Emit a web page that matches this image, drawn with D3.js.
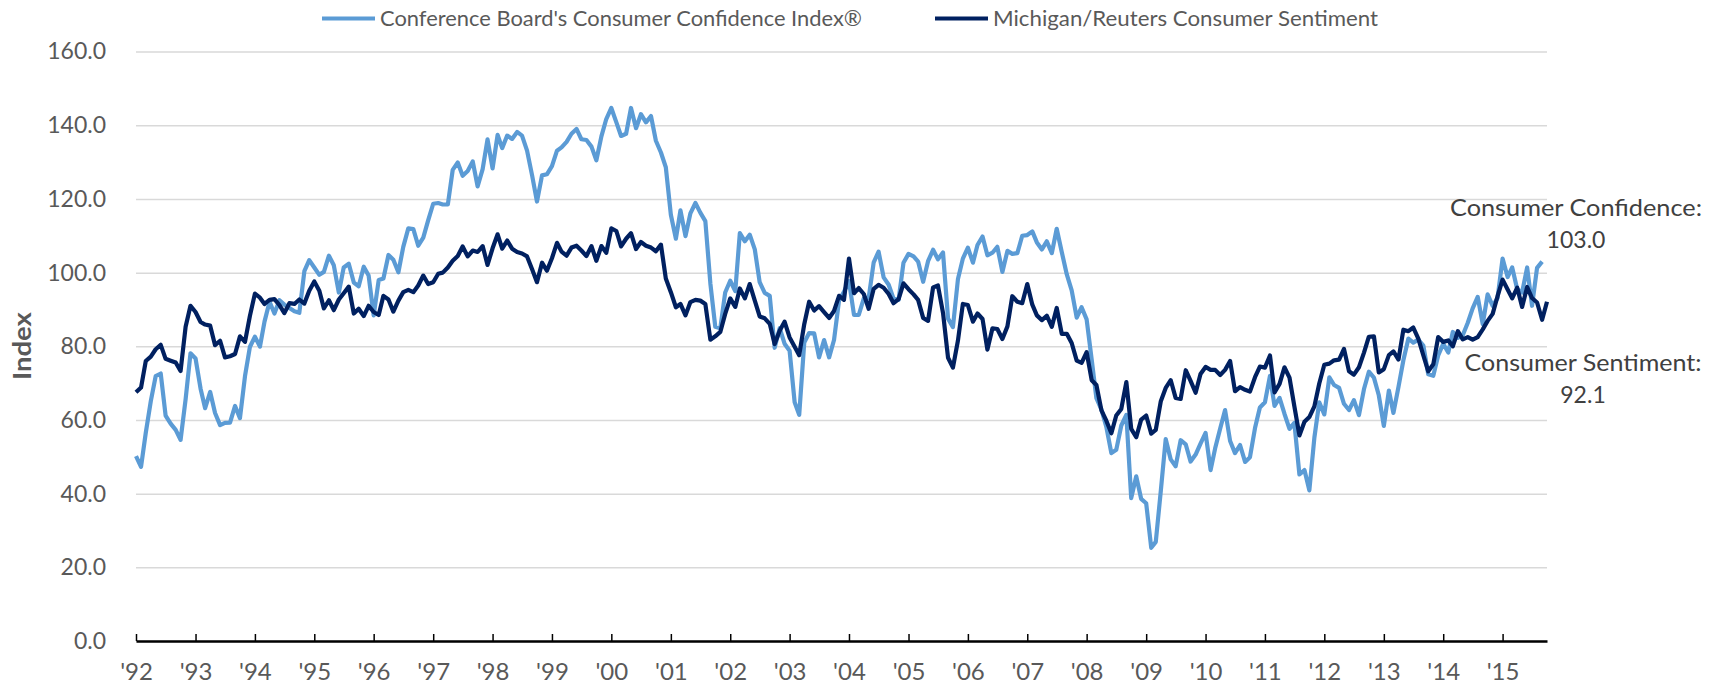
<!DOCTYPE html>
<html>
<head>
<meta charset="utf-8">
<script src="https://cdn.jsdelivr.net/npm/d3@7/dist/d3.min.js"></script>
<style>
body { margin: 0; background: #fff; }
text { font-family: Lato, "Open Sans", sans-serif; }
</style>
</head>
<body>
<div id="chart"></div>
<script>
// monthly values, Jan 1992 onwards
var startYear = 1992;

var confidence = [
  50.2, 47.3, 56.5, 65.1, 71.9, 72.6, 61.2, 59.0, 57.3, 54.6, 65.6, 78.1,
  76.7, 68.5, 63.2, 67.6, 61.9, 58.6, 59.2, 59.3, 63.8, 60.5, 71.9, 79.8,
  82.6, 79.9, 86.7, 92.1, 88.9, 92.5, 91.3, 90.4, 89.5, 89.1, 100.4, 103.4,
  101.4, 99.4, 100.2, 104.6, 102.0, 94.6, 101.4, 102.4, 97.3, 96.3, 101.6, 99.2,
  88.4, 98.0, 98.4, 104.8, 103.5, 100.1, 107.0, 112.0, 111.8, 107.3, 109.5, 114.2,
  118.7, 118.9, 118.5, 118.5, 127.9, 129.9, 126.3, 127.6, 130.2, 123.4, 128.1, 136.2,
  128.3, 137.4, 133.8, 137.2, 136.3, 138.2, 137.2, 133.1, 126.4, 119.3, 126.4, 126.7,
  128.9, 133.1, 134.0, 135.5, 137.7, 139.0, 136.2, 136.0, 134.2, 130.5, 137.0, 141.7,
  144.7, 140.8, 137.1, 137.7, 144.7, 139.2, 143.0, 140.8, 142.5, 135.8, 132.6, 128.6,
  115.7, 109.2, 116.9, 109.9, 116.1, 118.9, 116.3, 114.0, 97.0, 85.3, 84.9, 94.6,
  97.8, 95.0, 110.7, 108.5, 110.3, 106.3, 97.4, 94.5, 93.7, 79.6, 84.9, 80.7,
  78.8, 64.8, 61.4, 81.0, 83.6, 83.5, 77.0, 81.7, 77.0, 81.7, 92.5, 94.8,
  97.7, 88.5, 88.5, 93.0, 93.1, 102.8, 105.7, 98.7, 96.7, 92.9, 92.6, 102.7,
  105.1, 104.4, 103.0, 97.5, 103.1, 106.2, 103.6, 105.5, 87.5, 85.2, 98.3, 103.8,
  106.8, 102.7, 107.5, 109.8, 104.7, 105.4, 107.0, 100.2, 105.9, 105.1, 105.3, 110.0,
  110.2, 111.2, 108.2, 106.3, 108.5, 105.3, 111.9, 105.6, 99.5, 95.2, 87.8, 90.6,
  87.3, 76.4, 65.9, 62.8, 58.1, 51.0, 51.9, 58.5, 61.4, 38.8, 44.7, 38.6,
  37.4, 25.3, 26.9, 40.8, 54.8, 49.3, 47.4, 54.5, 53.4, 48.7, 50.6, 53.6,
  56.5, 46.4, 52.3, 57.7, 62.7, 54.3, 51.0, 53.2, 48.6, 49.9, 57.8, 63.4,
  64.8, 72.0, 63.8, 66.0, 61.7, 57.6, 59.2, 45.2, 46.4, 40.9, 55.2, 64.8,
  61.5, 71.6, 69.5, 68.7, 64.4, 62.7, 65.4, 61.3, 68.4, 73.1, 71.5, 66.7,
  58.4, 68.0, 61.9, 69.0, 76.2, 82.1, 81.0, 81.8, 80.2, 72.4, 72.0, 77.5,
  80.7, 78.3, 83.9, 82.3, 83.0, 86.4, 90.3, 93.4, 86.0, 94.1, 91.0, 93.1,
  103.8, 98.8, 101.4, 95.5, 94.6, 101.4, 91.0, 101.3, 103.0
];

var sentiment = [
  67.5, 68.8, 76.0, 77.2, 79.2, 80.4, 76.6, 76.1, 75.6, 73.3, 85.3, 91.0,
  89.3, 86.6, 85.9, 85.6, 80.3, 81.5, 77.0, 77.3, 77.9, 82.7, 81.2, 88.2,
  94.3, 93.2, 91.5, 92.6, 92.8, 91.2, 89.0, 91.7, 91.5, 92.7, 91.6, 95.1,
  97.6, 95.1, 90.3, 92.5, 89.8, 92.7, 94.4, 96.2, 88.9, 90.2, 88.2, 91.0,
  89.3, 88.5, 93.7, 92.7, 89.4, 92.4, 94.7, 95.3, 94.7, 96.5, 99.2, 96.9,
  97.4, 99.7, 100.0, 101.4, 103.2, 104.5, 107.1, 104.4, 106.0, 105.6, 107.2, 102.1,
  106.6, 110.4, 106.5, 108.7, 106.5, 105.6, 105.2, 104.4, 100.9, 97.4, 102.7, 100.5,
  103.9, 108.1, 105.7, 104.6, 106.8, 107.3, 106.0, 104.5, 107.2, 103.2, 107.2, 105.4,
  112.0, 111.3, 107.1, 109.2, 110.7, 106.4, 108.3, 107.3, 106.8, 105.8, 107.6, 98.4,
  94.7, 90.6, 91.5, 88.4, 92.0, 92.6, 92.4, 91.5, 81.8, 82.7, 83.9, 88.8,
  93.0, 90.7, 95.7, 93.0, 96.9, 92.4, 88.1, 87.6, 86.1, 80.6, 84.2, 86.7,
  82.4, 79.9, 77.6, 86.0, 92.1, 89.7, 90.9, 89.3, 87.7, 89.6, 93.7, 92.6,
  103.8, 94.4, 95.8, 94.2, 90.2, 95.6, 96.7, 95.9, 94.2, 91.7, 92.8, 97.1,
  95.5, 94.1, 92.6, 87.7, 86.9, 96.0, 96.5, 89.1, 76.9, 74.2, 81.6, 91.5,
  91.2, 86.7, 88.9, 87.4, 79.1, 84.9, 84.7, 82.0, 85.4, 93.6, 92.1, 91.7,
  96.9, 91.3, 88.4, 87.1, 88.3, 85.3, 90.4, 83.4, 83.4, 80.9, 76.1, 75.5,
  78.4, 70.8, 69.5, 62.6, 59.8, 56.4, 61.2, 63.0, 70.3, 57.6, 55.3, 60.1,
  61.2, 56.3, 57.3, 65.1, 68.7, 70.8, 66.0, 65.7, 73.5, 70.6, 67.4, 72.5,
  74.4, 73.6, 73.6, 72.2, 73.6, 76.0, 67.8, 68.9, 68.2, 67.7, 71.6, 74.5,
  74.2, 77.5, 67.5, 69.8, 74.3, 71.5, 63.7, 55.8, 59.5, 60.8, 63.7, 69.9,
  75.0, 75.3, 76.2, 76.4, 79.3, 73.2, 72.3, 74.3, 78.3, 82.6, 82.7, 72.9,
  73.8, 77.6, 78.6, 76.4, 84.5, 84.1, 85.1, 82.1, 77.5, 73.2, 75.1, 82.5,
  81.2, 81.6, 80.0, 84.1, 81.9, 82.5, 81.8, 82.5, 84.6, 86.9, 88.8, 93.6,
  98.1, 95.4, 93.0, 95.9, 90.7, 96.1, 93.1, 91.9, 87.2, 92.1
];

var yTicks = [0, 20, 40, 60, 80, 100, 120, 140, 160];
var tickYears = d3.range(1992, 2016);
var seriesNames = ["Conference Board's Consumer Confidence Index\u00ae", "Michigan/Reuters Consumer Sentiment"];
var seriesColors = ["#5b9bd5", "#002060"];
var endNames = ["Consumer Confidence:", "Consumer Sentiment:"];

var chartWidth = 1721, chartHeight = 685;
var plotLeft = 136, plotRight = 1547, plotTop = 51.6, plotBottom = 641;

function monthDate(i) { return new Date(startYear, i, 1); }

var xscale = d3.scaleTime()
    .domain([monthDate(0), monthDate(sentiment.length - 1)])
    .range([plotLeft, plotRight]);
var yscale = d3.scaleLinear().domain([0, 160]).range([plotBottom, plotTop]);

var svg = d3.select("#chart").append("svg")
    .attr("width", chartWidth).attr("height", chartHeight);

// gridlines + y labels
var yaxis = d3.axisLeft(yscale)
    .tickValues(yTicks)
    .tickSizeInner(-(plotRight - plotLeft))
    .tickSizeOuter(0)
    .tickPadding(30)
    .tickFormat(d3.format(".1f"));

var gy = svg.append("g").attr("transform", "translate(" + plotLeft + ",0)").call(yaxis);
gy.select(".domain").remove();
gy.selectAll(".tick line").attr("stroke", "#d9d9d9").attr("stroke-width", 1.5);
gy.selectAll(".tick text").attr("fill", "#595959").style("font-size", "23px");

// x axis, ticks point up into the plot
var xaxis = d3.axisBottom(xscale)
    .tickValues(tickYears.map(function (yr) { return new Date(yr, 0, 1); }))
    .tickSizeInner(-7)
    .tickSizeOuter(0)
    .tickPadding(22)
    .tickFormat(function (d) { return "'" + d3.timeFormat("%y")(d); });

var gx = svg.append("g").attr("transform", "translate(0," + plotBottom + ")").call(xaxis);
gx.select(".domain").attr("stroke", "#000").attr("stroke-width", 2.5);
gx.selectAll(".tick line").attr("stroke", "#000").attr("stroke-width", 1.5);
gx.selectAll(".tick text").attr("fill", "#595959").style("font-size", "24px");

// y title
svg.append("text")
    .attr("transform", "translate(31,346) rotate(-90)")
    .attr("text-anchor", "middle")
    .attr("fill", "#595959")
    .style("font-size", "25px").style("font-weight", "bold")
    .attr("textLength", 68).attr("lengthAdjust", "spacingAndGlyphs")
    .text("Index");

// the two lines
var line = d3.line()
    .x(function (d, i) { return xscale(monthDate(i)); })
    .y(function (d) { return yscale(d); });

svg.selectAll("path.series").data([confidence, sentiment]).enter()
    .append("path").attr("class", "series")
    .attr("d", line)
    .attr("fill", "none")
    .attr("stroke", function (d, i) { return seriesColors[i]; })
    .attr("stroke-width", 4.2)
    .attr("stroke-linejoin", "round");

// legend
var legendX = [322, 935];
var legendW = [482, 385];
var lg = svg.selectAll("g.legend").data(seriesNames).enter()
    .append("g").attr("class", "legend")
    .attr("transform", function (d, i) { return "translate(" + legendX[i] + ",0)"; });
lg.append("line")
    .attr("x1", 0).attr("x2", 53).attr("y1", 18.5).attr("y2", 18.5)
    .attr("stroke", function (d, i) { return seriesColors[i]; })
    .attr("stroke-width", 4);
lg.append("text")
    .attr("x", 58).attr("y", 26)
    .attr("fill", "#595959")
    .style("font-size", "21px")
    .attr("textLength", function (d, i) { return legendW[i]; })
    .attr("lengthAdjust", "spacingAndGlyphs")
    .text(function (d) { return d; });

// end-of-series labels
var lastValues = [confidence[confidence.length - 1], sentiment[sentiment.length - 1]];
var endX = [1576, 1583];
var endY = [216, 371];
var endW = [252, 237];
var eg = svg.selectAll("g.endlabel").data(endNames).enter()
    .append("g").attr("class", "endlabel")
    .attr("transform", function (d, i) { return "translate(" + endX[i] + "," + endY[i] + ")"; });
eg.append("text")
    .attr("text-anchor", "middle")
    .attr("fill", "#404040")
    .style("font-size", "23px")
    .attr("textLength", function (d, i) { return endW[i]; })
    .attr("lengthAdjust", "spacingAndGlyphs")
    .text(function (d) { return d; });
eg.append("text")
    .attr("y", 32)
    .attr("text-anchor", "middle")
    .attr("fill", "#404040")
    .style("font-size", "23px")
    .text(function (d, i) { return d3.format(".1f")(lastValues[i]); });
</script>
</body>
</html>
